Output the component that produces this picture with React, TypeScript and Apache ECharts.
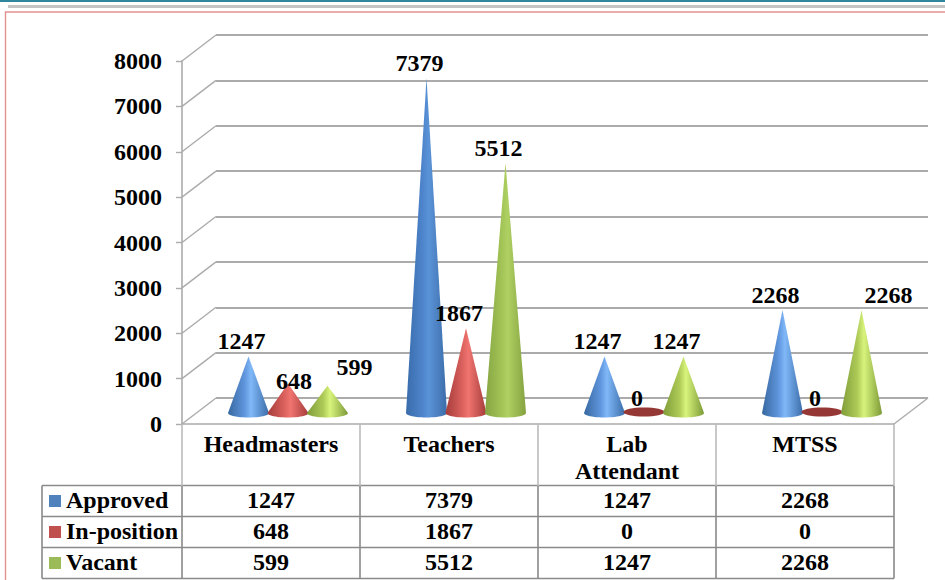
import React, { useEffect, useRef } from "react";
import * as echarts from "echarts";

const categories = ["Headmasters", "Teachers", "Lab\nAttendant", "MTSS"];
const approved = [1247, 7379, 1247, 2268];
const inPosition = [648, 1867, 0, 0];
const vacant = [599, 5512, 1247, 2268];
const yTicks = [0, 1000, 2000, 3000, 4000, 5000, 6000, 7000, 8000];

const FONT = "Liberation Serif";
const GREY = "#ababab";
const seriesDefs = [
  {
    name: "Approved", values: approved, key: "#4f81bd",
    stops: ["#37689f", "#5f95dc", "#80b8f8", "#3a6ca8"],
    tall: ["#3a6cab", "#4d84cb", "#5b93d8", "#3b6ca8"],
    zero: "#385d8a",
  },
  {
    name: "In-position", values: inPosition, key: "#c0504d",
    stops: ["#a53c3a", "#d9605c", "#f07470", "#a53c3a"],
    tall: ["#a53c3a", "#d9605c", "#f07470", "#a53c3a"],
    zero: "#953735",
  },
  {
    name: "Vacant", values: vacant, key: "#9bbb59",
    stops: ["#7f9c3a", "#aecb58", "#d8f47c", "#7c9a38"],
    tall: ["#86a544", "#a2c355", "#afd062", "#84a240"],
    zero: "#76923c",
  },
];
// label nudges, in pixels from the cone tip: seriesIndex:categoryIndex
const labelNudge: Record<string, [number, number]> = {
  "1:0": [6, -3],
  "2:0": [27, -19],
  "2:3": [27, -15],
};

const makeCone = (si: number) => (params: any, api: any) => {
  const i = api.value(0);
  const v = api.value(1);
  const top = api.coord([i, v]);
  const base = api.coord([i, 0]);
  const def = seriesDefs[si];
  const cx = top[0] + 17 + (si - 1) * 39.5;
  const by = base[1] - 11;
  const ty = top[1] - 11;
  const rx = 20.5;
  const ry = 4.5;
  const children: any[] = [];
  if (v === 0) {
    children.push({
      type: "ellipse",
      shape: { cx, cy: by - 1, rx, ry },
      style: { fill: def.zero },
    });
  } else {
    const pts: number[][] = [[cx, ty]];
    for (let a = 0; a <= 24; a++) {
      const t = (a / 24) * Math.PI;
      pts.push([cx + rx * Math.cos(t), by + ry * Math.sin(t)]);
    }
    const stops = v > 3000 ? def.tall : def.stops;
    children.push({
      type: "polygon",
      shape: { points: pts },
      style: {
        fill: new echarts.graphic.LinearGradient(0, 0, 1, 0, [
          { offset: 0, color: stops[0] },
          { offset: 0.4, color: stops[1] },
          { offset: 0.56, color: stops[2] },
          { offset: 1, color: stops[3] },
        ]),
      },
    });
  }
  const nudge = labelNudge[`${si}:${i}`] || [-7, -15];
  children.push({
    type: "text",
    z2: 20,
    style: {
      x: cx + nudge[0],
      y: ty + nudge[1],
      text: String(v),
      font: `bold 24px "${FONT}"`,
      fill: "#000",
      align: "center",
      verticalAlign: "middle",
    },
  });
  return { type: "group", children };
};

const depthLines = (params: any, api: any) => {
  const tick = api.value(0);
  const rect = params.coordSys;
  const y = api.coord([0, tick])[1];
  const style = { stroke: GREY, lineWidth: 1.4, fill: "none" };
  const children: any[] = [
    { type: "line", shape: { x1: rect.x, y1: y, x2: rect.x + 34, y2: y - 26 }, style },
  ];
  if (tick === 0) {
    children.push({
      type: "line",
      shape: { x1: rect.x + rect.width, y1: y, x2: rect.x + rect.width + 34, y2: y - 26 },
      style,
    });
  }
  return { type: "group", children };
};

const tableGraphics = () => {
  const els: any[] = [];
  const tableLeft = 42;
  const headX = 182;
  const colW = 178;
  const rowTop = 485.5;
  const rowH = 31;
  const lineStyle = { stroke: "#8a8a8a", lineWidth: 1.6 };
  const text = (t: string, x: number, y: number, align: string) => ({
    type: "text",
    style: { x, y, text: t, font: `bold 24px "${FONT}"`, fill: "#000", align, verticalAlign: "middle" },
  });
  for (let r = 0; r <= seriesDefs.length; r++) {
    const y = rowTop + r * rowH;
    els.push({ type: "line", shape: { x1: tableLeft, y1: y, x2: headX + colW * categories.length, y2: y }, style: lineStyle });
  }
  const bottom = rowTop + rowH * seriesDefs.length;
  els.push({ type: "line", shape: { x1: tableLeft, y1: rowTop, x2: tableLeft, y2: bottom }, style: lineStyle });
  for (let c = 0; c <= categories.length; c++) {
    const x = headX + c * colW;
    els.push({ type: "line", shape: { x1: x, y1: rowTop, x2: x, y2: bottom }, style: lineStyle });
  }
  seriesDefs.forEach((def, r) => {
    const cy = rowTop + r * rowH + rowH / 2;
    els.push({ type: "rect", shape: { x: 49, y: cy - 6, width: 12, height: 12 }, style: { fill: def.key } });
    els.push(text(def.name, 66, cy - 1.5, "left"));
    def.values.forEach((v, c) => {
      els.push(text(String(v), headX + colW * c + colW / 2, cy - 1.5, "center"));
    });
  });
  // page decoration
  els.push({ type: "rect", shape: { x: 0, y: 0, width: 945, height: 2 }, style: { fill: "#31859c" } });
  els.push({ type: "rect", shape: { x: 8, y: 5, width: 937, height: 3 }, style: { fill: "#c4c4c4" } });
  els.push({ type: "polyline", shape: { points: [[5.5, 580], [5.5, 12], [945, 12]] }, style: { stroke: "#e39090", lineWidth: 1.4, fill: "none" } });
  return els;
};

export default function App() {
  const ref = useRef<HTMLDivElement>(null);
  useEffect(() => {
    const chart = echarts.init(ref.current!, undefined, { renderer: "svg" });
    chart.setOption({
      animation: false,
      backgroundColor: "#fff",
      grid: [
        { left: 182, top: 61, width: 712, height: 363, containLabel: false },
        { left: 216, top: 35, width: 712, height: 363, containLabel: false },
      ],
      xAxis: [
        {
          type: "category",
          gridIndex: 0,
          data: categories,
          axisLine: { lineStyle: { color: GREY, width: 1.6 } },
          axisTick: { show: true, length: 62, lineStyle: { color: "#bbbbbb", width: 1.6 } },
          axisLabel: {
            margin: 6,
            interval: 0,
            fontFamily: FONT,
            fontWeight: "bold",
            fontSize: 24,
            lineHeight: 27,
            color: "#000",
            verticalAlign: "top",
          },
        },
        { type: "category", gridIndex: 1, data: categories, show: false },
      ],
      yAxis: [
        {
          type: "value",
          gridIndex: 0,
          min: 0,
          max: 8000,
          interval: 1000,
          splitLine: { show: false },
          axisLine: { show: true, lineStyle: { color: GREY, width: 1.6 } },
          axisTick: { show: true, length: 6, lineStyle: { color: GREY, width: 1.4 } },
          axisLabel: {
            margin: 20,
            formatter: (v: number) => String(v),
            fontFamily: FONT,
            fontWeight: "bold",
            fontSize: 24,
            color: "#000",
          },
        },
        {
          type: "value",
          gridIndex: 1,
          min: 0,
          max: 8000,
          interval: 1000,
          axisLine: { show: false },
          axisTick: { show: false },
          axisLabel: { show: false },
          splitLine: { show: true, lineStyle: { color: GREY, width: 1.8 } },
        },
      ],
      series: [
        {
          type: "custom",
          name: "depth",
          xAxisIndex: 0,
          yAxisIndex: 0,
          silent: true,
          clip: false,
          data: yTicks.map((t) => [t]),
          encode: { y: 0 },
          renderItem: depthLines,
          z: 1,
        },
        ...seriesDefs.map((def, si) => ({
          type: "custom",
          name: def.name,
          xAxisIndex: 0,
          yAxisIndex: 0,
          clip: false,
          data: def.values.map((v, i) => [i, v]),
          encode: { x: 0, y: 1 },
          renderItem: makeCone(si),
          z: 3,
        })),
      ],
      graphic: tableGraphics(),
    });
    return () => chart.dispose();
  }, []);
  return (
    <div
      ref={ref}
      style={{ position: "fixed", left: 0, top: 0, width: 945, height: 580, background: "#fff" }}
    />
  );
}
